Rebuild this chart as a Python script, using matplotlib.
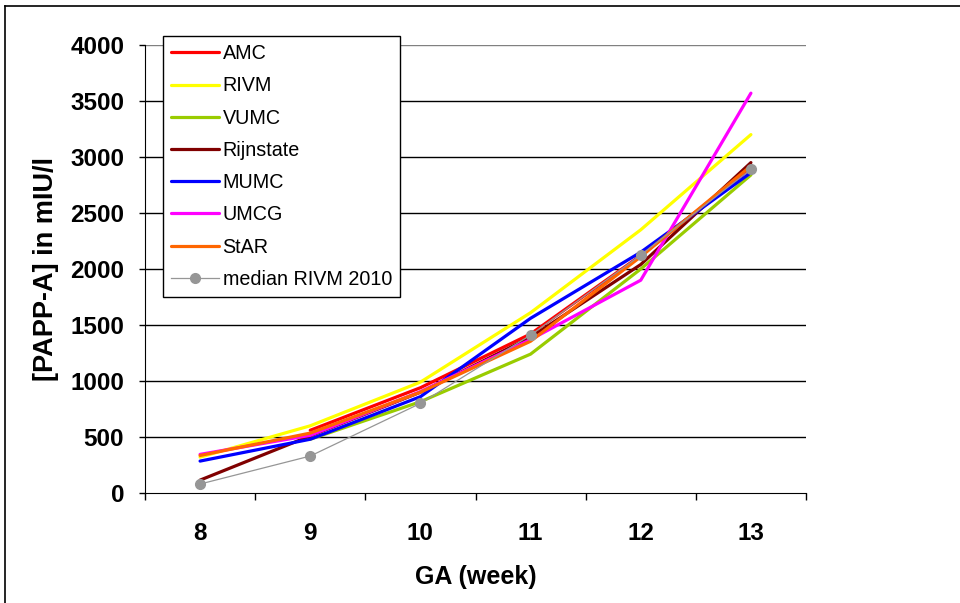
import matplotlib
matplotlib.use("Agg")
import matplotlib.pyplot as plt
from matplotlib.lines import Line2D
import numpy as np

plt.rcParams['font.family'] = ['Liberation Sans', 'DejaVu Sans']

weeks = [8, 9, 10, 11, 12, 13]
AMC = [None, 560, 940, 1420, 2120, 2900]
RIVM = [320, 600, 990, 1610, 2350, 3200]
VUMC = [None, 480, 815, 1240, 2000, 2840]
Rijnstate = [115, 510, 900, 1390, 2040, 2950]
MUMC = [285, 480, 860, 1560, 2150, 2860]
UMCG = [345, 515, 905, 1370, 1900, 3570]
StAR = [335, 535, 900, 1355, 2110, 2920]
median_RIVM_2010 = [80, 330, 800, 1410, 2125, 2890]

series = [
    ("AMC", AMC, "#FF0000"),
    ("RIVM", RIVM, "#FFFF00"),
    ("VUMC", VUMC, "#99CC00"),
    ("Rijnstate", Rijnstate, "#800000"),
    ("MUMC", MUMC, "#0000FF"),
    ("UMCG", UMCG, "#FF00FF"),
    ("StAR", StAR, "#FF6600"),
]
yticks = [0, 500, 1000, 1500, 2000, 2500, 3000, 3500, 4000]

fig = plt.figure(figsize=(9.6, 6.03), dpi=100)
W, H = 960, 603
ax = fig.add_axes([145 / W, 1 - 493 / H, (806 - 145) / W, (493 - 45) / H])

for name, vals, col in series:
    xs = [w for w, v in zip(weeks, vals) if v is not None]
    ys = [v for v in vals if v is not None]
    ax.plot(xs, ys, color=col, lw=2.3, label=name, solid_capstyle='round', zorder=3)
ax.plot(weeks, median_RIVM_2010, color="#969696", lw=0.9, marker='o', markersize=7,
        markerfacecolor="#969696", markeredgecolor="#969696", label="median RIVM 2010", zorder=4)

ax.set_xlim(7.5, 13.5)
ax.set_ylim(0, 4000)
ax.set_yticks(yticks)
ax.set_yticklabels([str(t) for t in yticks], fontsize=17.5, fontweight='bold')
ax.set_xticks(weeks)
ax.set_xticklabels([str(w) for w in weeks], fontsize=17.5, fontweight='bold')
ax.set_xticks(np.arange(7.5, 13.6, 1.0), minor=True)
ax.tick_params(axis='x', which='major', length=0, pad=21)
ax.tick_params(axis='x', which='minor', length=5, width=1, direction='out', color='black')
ax.tick_params(axis='y', which='major', length=4, width=1, direction='out', pad=11)

for t in yticks[1:]:
    ax.axhline(t, color='black' if t < 4000 else '#808080', lw=1, zorder=1)

for s in ['top', 'right']:
    ax.spines[s].set_visible(False)
ax.spines['left'].set_color('black')
ax.spines['bottom'].set_color('black')

ax.set_xlabel("GA (week)", fontsize=18, fontweight='bold', labelpad=14)
ax.set_ylabel("[PAPP-A] in mIU/l", fontsize=19.5, fontweight='bold', labelpad=8)

leg = ax.legend(loc='upper left', bbox_to_anchor=(163 / W, 1 - 36 / H), bbox_transform=fig.transFigure,
                borderaxespad=0, fontsize=14.2, frameon=True, fancybox=False, edgecolor='black',
                framealpha=1, handlelength=2.4, handletextpad=0.2, labelspacing=0.67,
                borderpad=0.42)
leg.get_frame().set_linewidth(1)
leg.set_zorder(10)

# outer chart border (top and left)
fig.add_artist(Line2D([5 / W, 1.0], [1 - 6 / H, 1 - 6 / H], color='black', lw=1.2, transform=fig.transFigure))
fig.add_artist(Line2D([5 / W, 5 / W], [0, 1 - 6 / H], color='black', lw=1.2, transform=fig.transFigure))

fig.savefig("out.png", dpi=100)
